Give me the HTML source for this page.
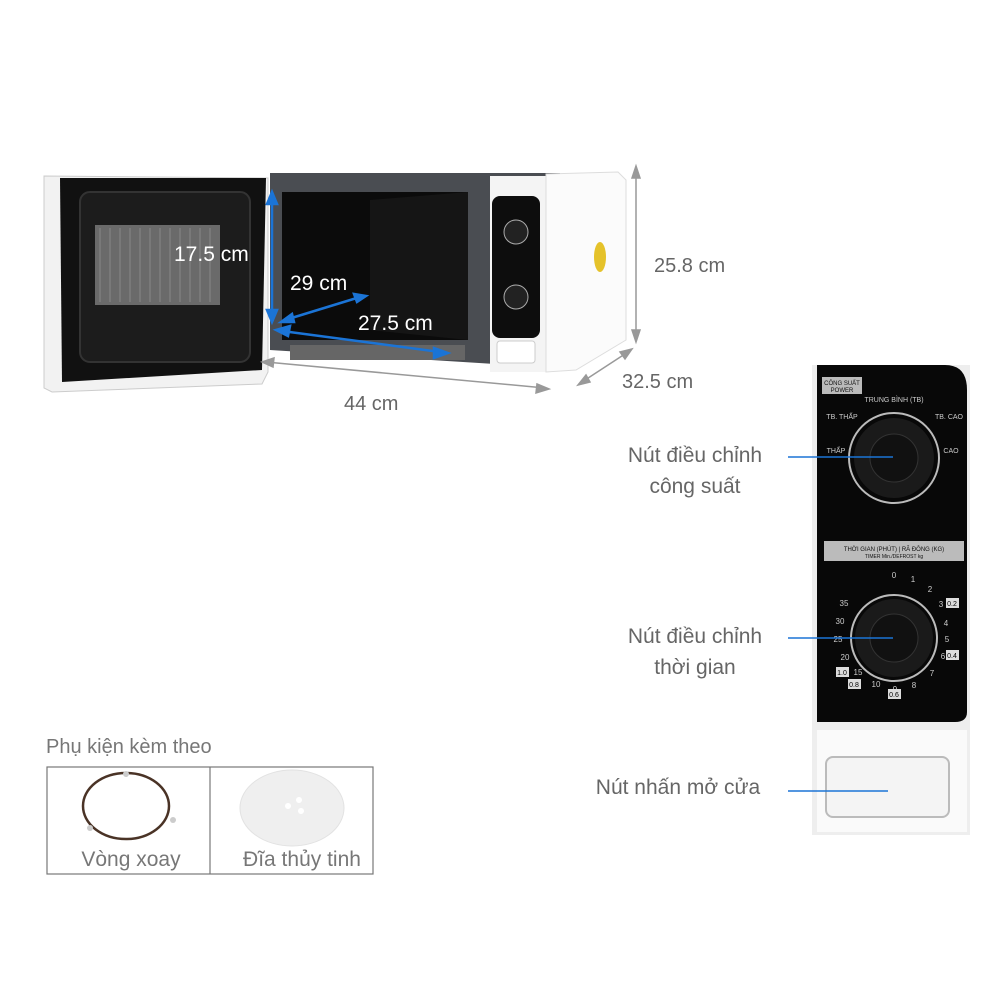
<!DOCTYPE html>
<html><head><meta charset="utf-8"><style>
html,body{margin:0;padding:0;background:#fff;}
svg{display:block;}
text{font-family:"Liberation Sans","Noto Sans CJK SC",sans-serif;}
</style></head><body>
<svg width="1000" height="1000" viewBox="0 0 1000 1000" xmlns="http://www.w3.org/2000/svg">
<polygon points="44,176 268,178 268,372 262,384 52,392 44,388" fill="#f2f2f2" stroke="#ccc"/>
<polygon points="60,178 266,178 262,370 62,382" fill="#111"/>
<rect x="80" y="192" width="170" height="170" rx="10" fill="#1c1c1c" stroke="#333" stroke-width="2"/>
<rect x="95" y="225" width="125" height="80" fill="#6a6a6a"/>
<g stroke="#888" stroke-width="1">
<line x1="100" y1="228" x2="100" y2="302"/><line x1="110" y1="228" x2="110" y2="302"/><line x1="120" y1="228" x2="120" y2="302"/><line x1="130" y1="228" x2="130" y2="302"/><line x1="140" y1="228" x2="140" y2="302"/><line x1="150" y1="228" x2="150" y2="302"/><line x1="160" y1="228" x2="160" y2="302"/><line x1="170" y1="228" x2="170" y2="302"/><line x1="180" y1="228" x2="180" y2="302"/><line x1="190" y1="228" x2="190" y2="302"/><line x1="200" y1="228" x2="200" y2="302"/><line x1="210" y1="228" x2="210" y2="302"/>
</g>
<polygon points="270,173 560,173 560,368 270,350" fill="#4a4d52"/>
<rect x="282" y="192" width="186" height="148" fill="#0b0b0b"/>
<polygon points="370,200 468,192 468,340 370,330" fill="#151515"/>
<rect x="290" y="345" width="175" height="15" fill="#666"/>
<rect x="490" y="176" width="56" height="196" fill="#f4f4f4"/>
<rect x="492" y="196" width="48" height="142" rx="8" fill="#0d0d0d"/>
<circle cx="516" cy="232" r="12" fill="#222" stroke="#aaa"/>
<circle cx="516" cy="297" r="12" fill="#222" stroke="#aaa"/>
<rect x="497" y="341" width="38" height="22" rx="3" fill="#fff" stroke="#ccc"/>
<polygon points="546,174 618,172 626,180 626,340 576,370 546,372" fill="#fbfbfb" stroke="#ddd"/>
<ellipse cx="600" cy="257" rx="6" ry="15" fill="#e5c22a"/>
<g stroke="#1b74d6" stroke-width="2.5" fill="#1b74d6">
<line x1="272" y1="200" x2="272" y2="315"/>
<polygon points="272,192 267,204 277,204"/><polygon points="272,322 267,310 277,310"/>
<line x1="282" y1="331" x2="440" y2="352"/>
<polygon points="276,330 290,326 288,336"/><polygon points="448,353 434,348 434,358"/>
<line x1="285" y1="320" x2="360" y2="297"/>
<polygon points="281,322 292,314 294,322"/><polygon points="366,296 354,294 357,302"/>
</g>
<g stroke="#999" stroke-width="1.5" fill="#999">
<line x1="266" y1="362" x2="545" y2="388"/>
<polygon points="262,362 274,358 273,367"/><polygon points="549,389 537,384 536,393"/>
<line x1="636" y1="172" x2="636" y2="336"/>
<polygon points="636,166 632,178 640,178"/><polygon points="636,342 632,330 640,330"/>
<line x1="582" y1="382" x2="628" y2="352"/>
<polygon points="578,385 586,375 590,382"/><polygon points="632,349 620,352 625,359"/>
</g>
<g font-size="21" fill="#fff">
<text x="174" y="261">17.5 cm</text>
<text x="290" y="290">29 cm</text>
<text x="358" y="330">27.5 cm</text>
</g>
<g font-size="20" fill="#666">
<text x="344" y="410">44 cm</text>
<text x="654" y="272">25.8 cm</text>
<text x="622" y="388">32.5 cm</text>
</g>
<rect x="812" y="365" width="158" height="470" fill="#eee"/>
<path d="M817,365 L945,365 Q967,365 967,390 L967,712 Q967,722 955,722 L817,722 Z" fill="#080808"/>
<rect x="817" y="730" width="150" height="102" fill="#fafafa"/>
<rect x="826" y="757" width="123" height="60" rx="7" fill="#f4f4f4" stroke="#bbb" stroke-width="2"/>
<rect x="822" y="377" width="40" height="17" fill="#bbb"/>
<text x="842" y="385" font-size="6" fill="#111" text-anchor="middle">CÔNG SUẤT</text>
<text x="842" y="392" font-size="6" fill="#111" text-anchor="middle">POWER</text>
<g fill="#ccc" font-size="7" text-anchor="middle">
<text x="894" y="402">TRUNG BÌNH (TB)</text>
<text x="842" y="419">TB. THẤP</text>
<text x="949" y="419">TB. CAO</text>
<text x="836" y="453">THẤP</text>
<text x="951" y="453">CAO</text>
</g>
<circle cx="894" cy="458" r="45" fill="none" stroke="#bbb" stroke-width="2"/>
<circle cx="894" cy="458" r="40" fill="#1a1a1a"/>
<circle cx="894" cy="458" r="24" fill="#111" stroke="#333"/>
<rect x="824" y="541" width="140" height="20" fill="#bbb"/>
<text x="894" y="551" font-size="6" fill="#111" text-anchor="middle">THỜI GIAN (PHÚT) | RÃ ĐÔNG (KG)</text>
<text x="894" y="558" font-size="5" fill="#111" text-anchor="middle">TIMER Min./DEFROST kg</text>
<circle cx="894" cy="638" r="43" fill="none" stroke="#bbb" stroke-width="2"/>
<circle cx="894" cy="638" r="39" fill="#1a1a1a"/>
<circle cx="894" cy="638" r="24" fill="#111" stroke="#333"/>
<g fill="#ccc" font-size="8" text-anchor="middle">
<text x="894" y="578">0</text><text x="913" y="582">1</text><text x="930" y="592">2</text>
<text x="941" y="607">3</text><text x="946" y="626">4</text><text x="947" y="642">5</text><text x="943" y="659">6</text>
<text x="932" y="676">7</text><text x="914" y="688">8</text><text x="895" y="692">9</text><text x="876" y="687">10</text>
<text x="858" y="675">15</text><text x="845" y="660">20</text><text x="838" y="642">25</text><text x="840" y="624">30</text><text x="844" y="606">35</text>
</g>
<g font-size="7" text-anchor="middle"><rect x="946" y="598" width="13" height="10" fill="#ddd"/><text x="952" y="606">0.2</text>
<rect x="946" y="650" width="13" height="10" fill="#ddd"/><text x="952" y="658">0.4</text>
<rect x="836" y="667" width="13" height="10" fill="#ddd"/><text x="842" y="675">1.0</text>
<rect x="848" y="679" width="13" height="10" fill="#ddd"/><text x="854" y="687">0.8</text>
<rect x="888" y="689" width="13" height="10" fill="#ddd"/><text x="894" y="697">0.6</text></g>
<g stroke="#1b74d6" stroke-width="1.5">
<line x1="788" y1="457" x2="893" y2="457"/>
<line x1="788" y1="638" x2="893" y2="638"/>
<line x1="788" y1="791" x2="888" y2="791"/>
</g>
<g font-size="21" fill="#666" text-anchor="middle">
<text x="695" y="462">Nút điều chỉnh</text>
<text x="695" y="493">công suất</text>
<text x="695" y="643">Nút điều chỉnh</text>
<text x="695" y="674">thời gian</text>
<text x="678" y="794">Nút nhấn mở cửa</text>
</g>
<text x="46" y="753" font-size="20" fill="#777">Phụ kiện kèm theo</text>
<rect x="47" y="767" width="326" height="107" fill="none" stroke="#777" stroke-width="1.2"/>
<line x1="210" y1="767" x2="210" y2="874" stroke="#777" stroke-width="1.2"/>
<ellipse cx="126" cy="806" rx="43" ry="33" fill="none" stroke="#4a3326" stroke-width="2.5"/>
<circle cx="126" cy="774" r="3" fill="#ccc"/><circle cx="90" cy="828" r="3" fill="#ccc"/><circle cx="173" cy="820" r="3" fill="#ccc"/>
<ellipse cx="292" cy="808" rx="52" ry="38" fill="#efefef" stroke="#e2e2e2"/>
<circle cx="299" cy="800" r="3" fill="#fff"/><circle cx="288" cy="806" r="3" fill="#fff"/><circle cx="301" cy="811" r="3" fill="#fff"/>
<g font-size="21" fill="#777" text-anchor="middle">
<text x="131" y="866">Vòng xoay</text>
<text x="302" y="866">Đĩa thủy tinh</text>
</g>
</svg>
</body></html>
